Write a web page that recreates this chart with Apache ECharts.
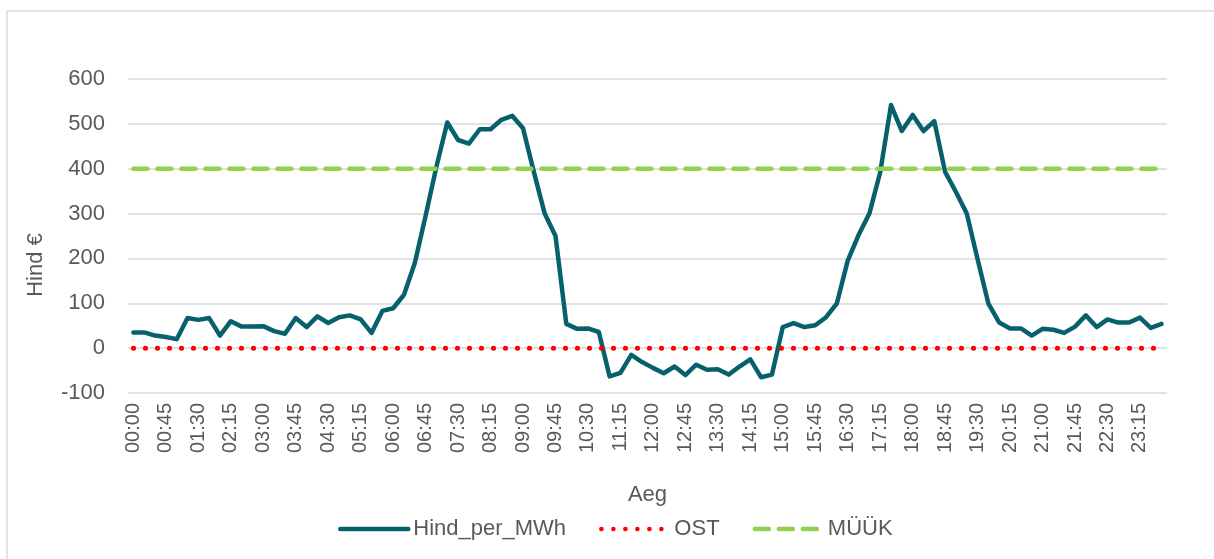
<!DOCTYPE html>
<html>
<head>
<meta charset="utf-8">
<script src="https://cdn.jsdelivr.net/npm/echarts@6/dist/echarts.min.js"></script>
<style>
    html, body { margin: 0; padding: 0; background: #fff; }
    #price_chart { width: 1214px; height: 559px; }
</style>
</head>
<body>
<div id="price_chart"></div>
<script>
// kellaajad, 15 min samm
var times = [
    '00:00', '00:15', '00:30', '00:45', '01:00', '01:15', '01:30', '01:45',
    '02:00', '02:15', '02:30', '02:45', '03:00', '03:15', '03:30', '03:45',
    '04:00', '04:15', '04:30', '04:45', '05:00', '05:15', '05:30', '05:45',
    '06:00', '06:15', '06:30', '06:45', '07:00', '07:15', '07:30', '07:45',
    '08:00', '08:15', '08:30', '08:45', '09:00', '09:15', '09:30', '09:45',
    '10:00', '10:15', '10:30', '10:45', '11:00', '11:15', '11:30', '11:45',
    '12:00', '12:15', '12:30', '12:45', '13:00', '13:15', '13:30', '13:45',
    '14:00', '14:15', '14:30', '14:45', '15:00', '15:15', '15:30', '15:45',
    '16:00', '16:15', '16:30', '16:45', '17:00', '17:15', '17:30', '17:45',
    '18:00', '18:15', '18:30', '18:45', '19:00', '19:15', '19:30', '19:45',
    '20:00', '20:15', '20:30', '20:45', '21:00', '21:15', '21:30', '21:45',
    '22:00', '22:15', '22:30', '22:45', '23:00', '23:15', '23:30', '23:45'
];

// hind €/MWh
var hindPerMWh = [
    35, 35, 28, 25, 20, 67, 63, 67,
    28, 60, 48, 48, 49, 38, 32, 67,
    47, 71, 56, 69, 73, 64, 34, 83,
    89, 119, 190, 295, 405, 503, 464, 456,
    488, 488, 509, 518, 490, 393, 300, 250,
    54, 43, 44, 36, -63, -55, -15, -31,
    -44, -56, -41, -60, -37, -48, -47, -59,
    -41, -25, -65, -59, 47, 56, 47, 51,
    69, 100, 195, 252, 300, 392, 542, 484,
    520, 484, 506, 393, 348, 300, 198, 99,
    57, 44, 44, 28, 43, 41, 34, 48,
    73, 47, 64, 57, 57, 68, 45, 54
];

// OST
var ost = [
    0, 0, 0, 0, 0, 0, 0, 0, 0, 0, 0, 0, 0, 0, 0, 0,
    0, 0, 0, 0, 0, 0, 0, 0, 0, 0, 0, 0, 0, 0, 0, 0,
    0, 0, 0, 0, 0, 0, 0, 0, 0, 0, 0, 0, 0, 0, 0, 0,
    0, 0, 0, 0, 0, 0, 0, 0, 0, 0, 0, 0, 0, 0, 0, 0,
    0, 0, 0, 0, 0, 0, 0, 0, 0, 0, 0, 0, 0, 0, 0, 0,
    0, 0, 0, 0, 0, 0, 0, 0, 0, 0, 0, 0, 0, 0, 0, 0
];

// MÜÜK
var muuk = [
    400, 400, 400, 400, 400, 400, 400, 400, 400, 400, 400, 400, 400, 400, 400, 400,
    400, 400, 400, 400, 400, 400, 400, 400, 400, 400, 400, 400, 400, 400, 400, 400,
    400, 400, 400, 400, 400, 400, 400, 400, 400, 400, 400, 400, 400, 400, 400, 400,
    400, 400, 400, 400, 400, 400, 400, 400, 400, 400, 400, 400, 400, 400, 400, 400,
    400, 400, 400, 400, 400, 400, 400, 400, 400, 400, 400, 400, 400, 400, 400, 400,
    400, 400, 400, 400, 400, 400, 400, 400, 400, 400, 400, 400, 400, 400, 400, 400
];

var textColor = '#595959';
var fontName = 'Liberation Sans';

var option = {
    animation: false,
    textStyle: {
        fontFamily: fontName,
        color: textColor
    },
    graphic: [
        // raami serv (ülemine ja vasak)
        {
            type: 'polyline',
            shape: { points: [[7, 559], [7, 11], [1214, 11]] },
            style: { stroke: '#d9d9d9', lineWidth: 1.5, fill: null }
        },
        // y-telje nimi
        {
            type: 'text',
            x: 36,
            y: 265,
            rotation: Math.PI / 2,
            style: {
                text: 'Hind €',
                font: '22px "Liberation Sans"',
                fill: textColor,
                align: 'center',
                verticalAlign: 'middle'
            }
        }
    ],
    grid: {
        left: 128,
        right: 47,
        top: 79,
        bottom: 166
    },
    legend: {
        data: ['Hind_per_MWh', 'OST', 'MÜÜK'],
        left: 333,
        top: 513,
        itemWidth: 68,
        itemHeight: 14,
        itemGap: 33,
        itemStyle: { opacity: 0 },
        lineStyle: { width: 4.5 },
        textStyle: {
            fontFamily: fontName,
            fontSize: 22,
            color: textColor
        }
    },
    xAxis: {
        type: 'category',
        data: times,
        boundaryGap: true,
        name: 'Aeg',
        nameLocation: 'middle',
        nameGap: 91,
        nameTextStyle: {
            fontSize: 22,
            color: textColor
        },
        axisLine: { show: false },
        axisTick: { show: false },
        axisLabel: {
            interval: 2,
            rotate: 90,
            margin: 10,
            fontSize: 20,
            color: textColor
        },
        splitLine: { show: false }
    },
    yAxis: {
        type: 'value',
        min: -100,
        max: 600,
        interval: 100,
        axisLine: { show: false },
        axisTick: { show: false },
        axisLabel: {
            margin: 23,
            fontSize: 22,
            color: textColor
        },
        splitLine: {
            lineStyle: { color: '#d9d9d9', width: 1.5 }
        }
    },
    series: [
        {
            name: 'Hind_per_MWh',
            type: 'line',
            data: hindPerMWh,
            symbol: 'none',
            itemStyle: { color: '#07616d' },
            lineStyle: { color: '#07616d', width: 4.5, join: 'round', cap: 'round' }
        },
        {
            name: 'OST',
            type: 'line',
            data: ost,
            symbol: 'none',
            itemStyle: { color: '#ff0000' },
            lineStyle: { color: '#ff0000', width: 5, type: [0.1, 11.9], cap: 'round' }
        },
        {
            name: 'MÜÜK',
            type: 'line',
            data: muuk,
            symbol: 'none',
            itemStyle: { color: '#92d050' },
            lineStyle: { color: '#92d050', width: 4.5, type: [14, 10], cap: 'round' }
        }
    ]
};

var price_chart = echarts.init(document.getElementById('price_chart'));
price_chart.setOption(option);
</script>
</body>
</html>
